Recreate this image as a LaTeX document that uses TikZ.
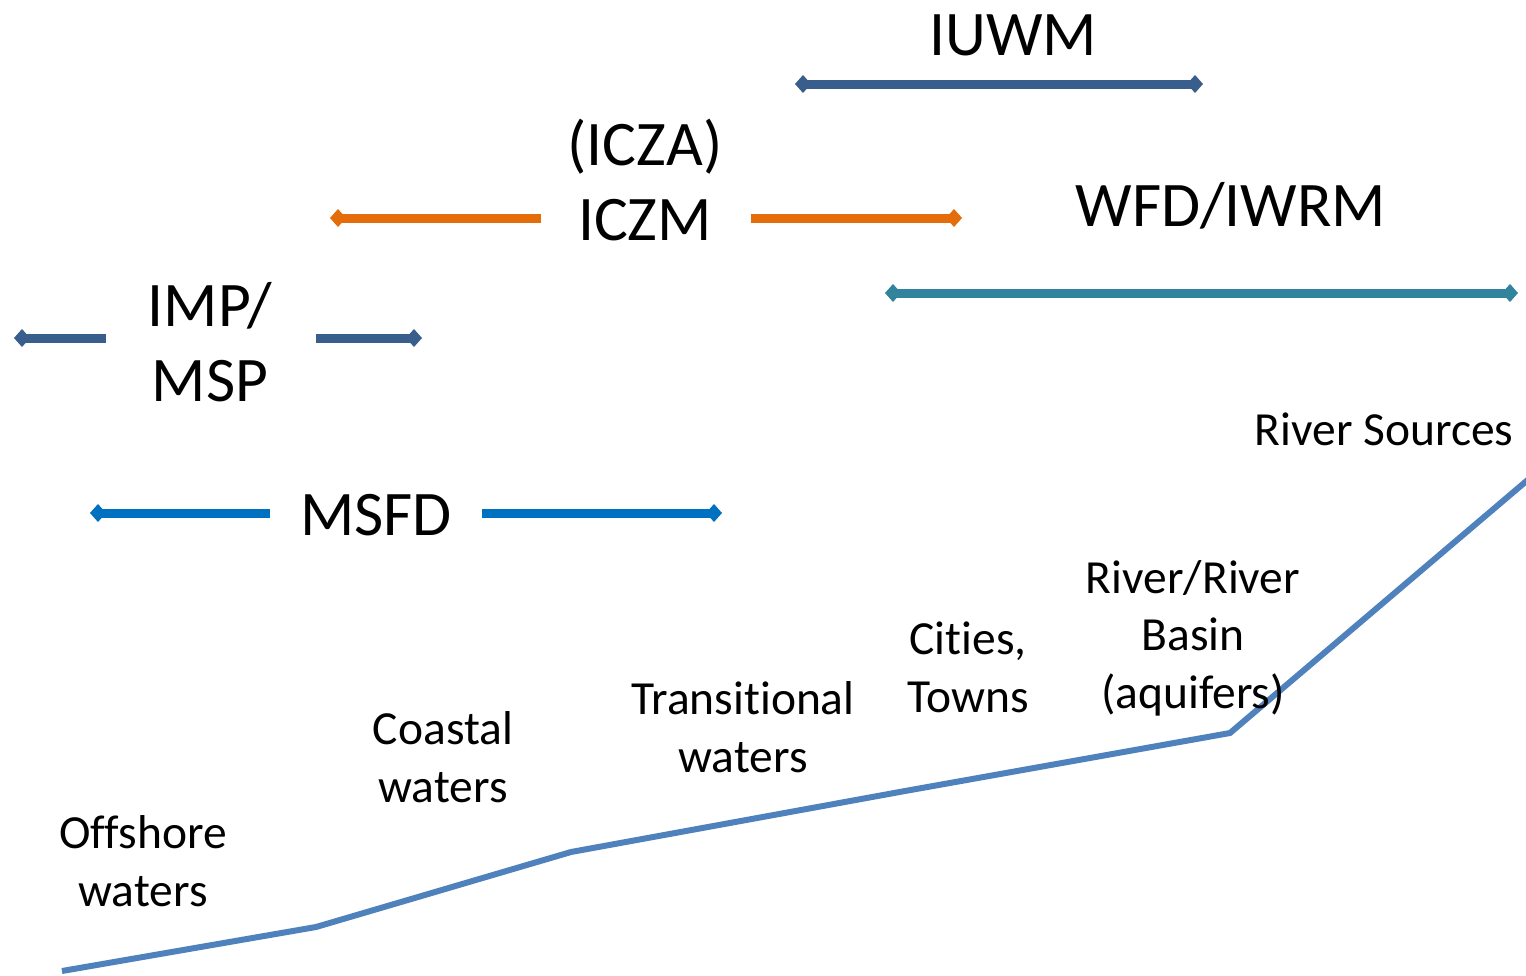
\documentclass[tikz,border=0pt]{standalone}
\usepackage{fontspec}
\setmainfont{Carlito}[Ligatures={NoCommon}]
\usetikzlibrary{arrows.meta}

\definecolor{navybar}{HTML}{3A5E8C}
\definecolor{orangebar}{HTML}{E46C0A}
\definecolor{tealbar}{HTML}{31849B}
\definecolor{msfdbar}{HTML}{0070C0}
\definecolor{profileblue}{HTML}{4F81BD}

\tikzset{
  bigtext/.style={font=\fontsize{63.5}{75}\selectfont, align=center, anchor=base, inner sep=0pt},
  zonetext/.style={font=\fontsize{47.5}{57.5}\selectfont, align=center, anchor=base, inner sep=0pt},
  bar/.style={line width=9pt, line cap=butt},
  bothtips/.style={bar, {Diamond[length=16pt,width=18pt]}-{Diamond[length=16pt,width=18pt]}},
  lefttip/.style={bar, {Diamond[length=16pt,width=18pt]}-},
  righttip/.style={bar, -{Diamond[length=16pt,width=18pt]}},
  profile/.style={draw=profileblue, line width=6pt, line join=miter}
}

\begin{document}
\begin{tikzpicture}[x=1pt, y=-1pt]
\useasboundingbox (0,0) rectangle (1526,975);

% policy scope labels (multi-line nodes sit on the baseline of their last line)
\node[bigtext] (iuwm) at (1013,55) {IUWM};
\node[bigtext] (iczm) at (645,240) {(ICZA)\\ICZM};
\node[bigtext] (wfd)  at (1231,226) {WFD/IWRM};
\node[bigtext] (imp)  at (210,401) {IMP/\\MSP};
\node[bigtext] (msfd) at (376,535) {MSFD};

% ends of the scope bars
\coordinate (iuwmL) at (795,84);   \coordinate (iuwmR) at (1203,84);
\coordinate (iczmL) at (330,218);  \coordinate (iczmLi) at (541,218);
\coordinate (iczmRi) at (751,218); \coordinate (iczmR) at (962,218);
\coordinate (wfdL) at (885,293);   \coordinate (wfdR) at (1518,293);
\coordinate (impL) at (14,338);    \coordinate (impLi) at (106,338);
\coordinate (impRi) at (316,338);  \coordinate (impR) at (422,338);
\coordinate (msfdL) at (90,513);   \coordinate (msfdLi) at (270,513);
\coordinate (msfdRi) at (482,513); \coordinate (msfdR) at (722,513);

% scope bars
\draw[bothtips, navybar] (iuwmL) -- (iuwmR);
\draw[lefttip, orangebar] (iczmL) -- (iczmLi);
\draw[righttip, orangebar] (iczmRi) -- (iczmR);
\draw[bothtips, tealbar] (wfdL) -- (wfdR);
\draw[lefttip, navybar] (impL) -- (impLi);
\draw[righttip, navybar] (impRi) -- (impR);
\draw[lefttip, msfdbar] (msfdL) -- (msfdLi);
\draw[righttip, msfdbar] (msfdRi) -- (msfdR);

% water body profile, from sea to source
\coordinate (p0) at (62,971);
\coordinate (p1) at (316,927);
\coordinate (p2) at (571,852);
\coordinate (p3) at (905,791);
\coordinate (p4) at (1230,733);
\coordinate (p5) at (1530,478);
\draw[profile] (p0) -- (p1) -- (p2) -- (p3) -- (p4) -- (p5);

% zone labels
\node[zonetext] (offshore) at (143,906) {Offshore\\waters};
\node[zonetext] (coastal)  at (443,802) {Coastal\\waters};
\node[zonetext] (trans)    at (743,772) {Transitional\\waters};
\node[zonetext] (cities)   at (968,712) {Cities,\\Towns};
\node[zonetext] (river)    at (1193,708) {River/River\\Basin\\(aquifers)};
\node[zonetext] (sources)  at (1384,445) {River Sources};
\end{tikzpicture}
\end{document}
